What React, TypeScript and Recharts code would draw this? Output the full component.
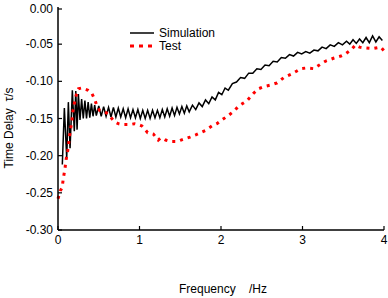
import React from 'react';
import { LineChart, Line, XAxis, YAxis, Legend } from 'recharts';

// Simulation curve (black), frequency in Hz and time delay in s
const simFreq = [
  0.053, 0.078, 0.107, 0.127, 0.148, 0.176, 0.2, 0.218, 0.234, 0.25,
  0.27, 0.29, 0.31, 0.33, 0.35, 0.37, 0.39, 0.41, 0.43, 0.45, 0.47,
  0.5, 0.53, 0.56, 0.59, 0.62, 0.65, 0.68, 0.71, 0.74, 0.77,
  0.8, 0.83, 0.86, 0.89, 0.92, 0.95, 0.98, 1.01, 1.04, 1.07,
  1.1, 1.13, 1.16, 1.19, 1.22, 1.25, 1.28, 1.31, 1.34, 1.37,
  1.4, 1.43, 1.46, 1.49, 1.52, 1.55, 1.58, 1.61,
  1.65, 1.69, 1.73, 1.77, 1.81, 1.85, 1.89, 1.93, 1.97, 2.01, 2.05, 2.09,
  2.14, 2.19, 2.24, 2.29, 2.34, 2.39, 2.44, 2.49, 2.54, 2.59,
  2.64, 2.69, 2.74, 2.79, 2.84, 2.89, 2.94, 2.99, 3.04, 3.09,
  3.14, 3.19, 3.24, 3.29, 3.34, 3.39, 3.44, 3.49, 3.54, 3.58,
  3.62, 3.66, 3.7, 3.74, 3.78, 3.82, 3.86, 3.9, 3.94, 3.98,
];
const simDelay = [
  -0.212, -0.136, -0.203, -0.128, -0.19, -0.112, -0.167, -0.113, -0.165, -0.117,
  -0.152, -0.124, -0.15, -0.126, -0.15, -0.128, -0.149, -0.13, -0.147, -0.132, -0.146,
  -0.133, -0.147, -0.134, -0.147, -0.135, -0.148, -0.135, -0.148, -0.136, -0.148,
  -0.137, -0.149, -0.137, -0.149, -0.138, -0.149, -0.138, -0.15, -0.139, -0.15,
  -0.139, -0.15, -0.139, -0.149, -0.139, -0.149, -0.138, -0.148, -0.137, -0.147,
  -0.136, -0.146, -0.135, -0.144, -0.134, -0.143, -0.133, -0.141,
  -0.132, -0.138, -0.129, -0.134, -0.125, -0.13, -0.121, -0.125, -0.115, -0.118, -0.109, -0.112,
  -0.103, -0.101, -0.095, -0.096, -0.089, -0.089, -0.083, -0.084, -0.078, -0.079,
  -0.073, -0.074, -0.068, -0.069, -0.064, -0.066, -0.061, -0.063, -0.06, -0.062,
  -0.058, -0.059, -0.054, -0.056, -0.051, -0.053, -0.048, -0.051, -0.046, -0.05,
  -0.044, -0.049, -0.043, -0.048, -0.041, -0.048, -0.039, -0.047, -0.04, -0.045,
];

// Test curve (red dots)
const testFreq = [
  0.0, 0.03, 0.05, 0.065, 0.086, 0.1, 0.12, 0.135, 0.15, 0.17,
  0.18, 0.2, 0.22, 0.25, 0.29, 0.32, 0.37, 0.41, 0.45, 0.48,
  0.51, 0.55, 0.59, 0.63, 0.69, 0.74, 0.78, 0.84, 0.89, 0.94,
  0.98, 1.03, 1.07, 1.1, 1.17, 1.23, 1.26, 1.29, 1.32, 1.38,
  1.46, 1.51, 1.56, 1.62, 1.69, 1.75, 1.81, 1.89, 1.95, 2.01,
  2.09, 2.16, 2.22, 2.32, 2.4, 2.46, 2.53, 2.61, 2.69, 2.77,
  2.87, 2.98, 3.05, 3.14, 3.22, 3.28, 3.38, 3.47, 3.53, 3.6,
  3.65, 3.7, 3.75, 3.86, 3.96, 4.0,
];
const testDelay = [
  -0.258, -0.247, -0.243, -0.231, -0.217, -0.205, -0.193, -0.18, -0.167, -0.154,
  -0.142, -0.13, -0.12, -0.11, -0.109, -0.11, -0.112, -0.115, -0.124, -0.134,
  -0.139, -0.14, -0.142, -0.146, -0.154, -0.157, -0.158, -0.158, -0.158, -0.157,
  -0.158, -0.16, -0.165, -0.169, -0.171, -0.179, -0.176, -0.177, -0.179, -0.181,
  -0.181, -0.179, -0.177, -0.175, -0.172, -0.169, -0.166, -0.16, -0.157, -0.152,
  -0.146, -0.14, -0.133, -0.126, -0.116, -0.11, -0.107, -0.105, -0.102, -0.095,
  -0.09, -0.083, -0.082, -0.083, -0.077, -0.073, -0.069, -0.066, -0.063, -0.057,
  -0.051, -0.054, -0.055, -0.056, -0.054, -0.059,
];

const xTicks = [0, 1, 2, 3, 4];
const yTicks = [-0.3, -0.25, -0.2, -0.15, -0.1, -0.05, 0];

const simData = simFreq.map((f, i) => ({ f, v: simDelay[i] }));
const testData = testFreq.map((f, i) => ({ f, v: testDelay[i] }));

const FONT = 'Arial, "Liberation Sans", sans-serif';

const XTick = ({ x, y, payload }: any) => (
  <g>
    <line x1={x} y1={y} x2={x} y2={y - 4} stroke="#000" strokeWidth={1.2} />
    <text x={x} y={y + 14} textAnchor="middle" fontSize={12} fontFamily={FONT} fill="#000">
      {payload.value}
    </text>
  </g>
);

const YTick = ({ x, y, payload }: any) => (
  <g>
    <line x1={x} y1={y} x2={x + 4} y2={y} stroke="#000" strokeWidth={1.2} />
    <text x={x - 5} y={y + 4} textAnchor="end" fontSize={12} fontFamily={FONT} fill="#000">
      {payload.value.toFixed(2)}
    </text>
  </g>
);

const LegendBox = () => (
  <svg width={110} height={30}>
    <line x1={2} y1={8} x2={26} y2={8} stroke="#000" strokeWidth={1.5} />
    <text x={31} y={12} fontSize={12} fontFamily={FONT} fill="#000">Simulation</text>
    <line x1={2} y1={21} x2={26} y2={21} stroke="#ff0000" strokeWidth={3} strokeDasharray="4 5" />
    <text x={31} y={25} fontSize={12} fontFamily={FONT} fill="#000">Test</text>
  </svg>
);

export default function App() {
  return (
    <div style={{ position: 'absolute', left: 0, top: 0, background: '#fff' }}>
      <LineChart width={388} height={298} margin={{ top: 7, right: 4, left: 0, bottom: 0 }}>
        <XAxis
          type="number"
          dataKey="f"
          domain={[0, 4]}
          ticks={xTicks}
          height={38}
          tickSize={0}
          tickMargin={0}
          tick={<XTick />}
          axisLine={{ stroke: '#000', strokeWidth: 1.5 }}
          allowDuplicatedCategory={false}
        />
        <YAxis
          type="number"
          dataKey="v"
          domain={[-0.3, 0]}
          ticks={yTicks}
          width={58}
          tickSize={0}
          tickMargin={0}
          tick={<YTick />}
          axisLine={{ stroke: '#000', strokeWidth: 1.5 }}
        />
        <Legend
          content={<LegendBox />}
          wrapperStyle={{ position: 'absolute', left: 128, top: 25, width: 110, height: 30 }}
        />
        <Line
          data={simData}
          dataKey="v"
          name="Simulation"
          type="linear"
          stroke="#000"
          strokeWidth={1.5}
          dot={false}
          isAnimationActive={false}
        />
        <Line
          data={testData}
          dataKey="v"
          name="Test"
          type="linear"
          stroke="#ff0000"
          strokeWidth={3}
          strokeDasharray="3 5"
          dot={false}
          isAnimationActive={false}
        />
        <text
          x={9}
          y={128}
          transform="rotate(-90 9 128)"
          textAnchor="middle"
          dominantBaseline="central"
          fontSize={12}
          fontFamily={FONT}
          style={{ whiteSpace: 'pre' }}
        >
          {'Time Delay  \u03c4/s'}
        </text>
        <text x={223} y={293} textAnchor="middle" fontSize={12} fontFamily={FONT} style={{ whiteSpace: 'pre' }}>
          {'Frequency    /Hz'}
        </text>
      </LineChart>
    </div>
  );
}
